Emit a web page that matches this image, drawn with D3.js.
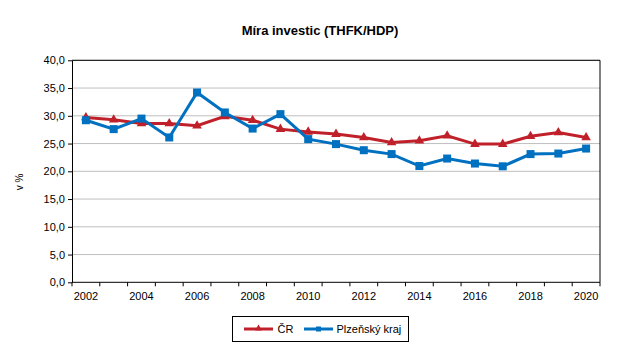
<!DOCTYPE html>
<html><head><meta charset="utf-8">
<script src="https://cdn.jsdelivr.net/npm/d3@7"></script>
<style>body{margin:0;background:#fff}svg{display:block;font-family:"Liberation Sans",Arial,sans-serif}</style>
</head><body>
<svg id="c" width="639" height="359"></svg>
<script>
const years = [2002,2003,2004,2005,2006,2007,2008,2009,2010,2011,2012,2013,2014,2015,2016,2017,2018,2019,2020];
const cr = [29.7,29.3,28.6,28.6,28.2,29.9,29.2,27.6,27.1,26.7,26.1,25.2,25.5,26.4,24.9,24.9,26.3,27.0,26.1];
const plzen = [29.2,27.6,29.5,26.1,34.2,30.6,27.7,30.3,25.8,24.9,23.8,23.1,20.95,22.3,21.4,20.9,23.1,23.2,24.1];
const yTicks = [0,5,10,15,20,25,30,35,40];
const seriesNames = ["ČR","Plzeňský kraj"];
const colors = ["#C0202A","#0070C0"];

const svg = d3.select("#c");
const L=72, R=600, T=60.3, B=282.3;
const x = d3.scaleBand().domain(years).range([L,R]);
const y = d3.scaleLinear().domain([0,40]).range([B,T]);
const fmt = v => d3.format(".1f")(v).replace(".", ",");

svg.append("text").attr("x",320).attr("y",35).attr("text-anchor","middle")
  .attr("font-weight","bold").attr("font-size",13).text("Míra investic (THFK/HDP)");

// gridlines
svg.append("g").selectAll("line").data(yTicks.filter(d=>d>0)).join("line")
  .attr("x1",L).attr("x2",R).attr("y1",d=>y(d)).attr("y2",d=>y(d))
  .attr("stroke","#BFBFBF").attr("stroke-width",1);

// plot border right/top
svg.append("line").attr("x1",L).attr("x2",R).attr("y1",T).attr("y2",T).attr("stroke","#000");
svg.append("line").attr("x1",R).attr("x2",R).attr("y1",T).attr("y2",B).attr("stroke","#000");

// y axis
const ya = svg.append("g").attr("transform",`translate(${L},0)`)
  .call(d3.axisLeft(y).tickValues(yTicks).tickFormat(fmt).tickSize(4).tickSizeOuter(0));
ya.select(".domain").attr("stroke","#000");
ya.selectAll("text").attr("font-size",11).attr("fill","#000").attr("font-family","Liberation Sans, Arial, sans-serif");

// x axis with ticks between categories
const xa = svg.append("g").attr("transform",`translate(0,${B})`);
xa.append("line").attr("x1",L).attr("x2",R).attr("stroke","#000");
const bounds = years.map(d=>x(d)).concat([R]);
xa.selectAll("line.t").data(bounds).join("line").attr("class","t")
  .attr("x1",d=>d).attr("x2",d=>d).attr("y1",0).attr("y2",4).attr("stroke","#000");
xa.selectAll("text").data(years.filter((d,i)=>i%2===0)).join("text")
  .attr("x",d=>x(d)+x.bandwidth()/2).attr("y",18).attr("text-anchor","middle")
  .attr("font-size",11).text(d=>d);

// y label
svg.append("text").attr("transform","translate(23,182) rotate(-90)")
  .attr("text-anchor","middle").attr("font-size",10).text("v %");

const cx = d => x(d)+x.bandwidth()/2;
const line = d3.line().x((d,i)=>cx(years[i])).y(d=>y(d));
const tri = d3.symbol().type(d3.symbolTriangle).size(40);

// ČR
svg.append("path").datum(cr).attr("d",line).attr("fill","none").attr("stroke",colors[0]).attr("stroke-width",3);
svg.append("g").selectAll("path").data(cr).join("path")
  .attr("transform",(d,i)=>`translate(${cx(years[i])},${y(d)})`).attr("d",tri).attr("fill",colors[0]);

// Plzeň
svg.append("path").datum(plzen).attr("d",line).attr("fill","none").attr("stroke",colors[1]).attr("stroke-width",3);
svg.append("g").selectAll("rect").data(plzen).join("rect")
  .attr("x",(d,i)=>cx(years[i])-4).attr("y",d=>y(d)-4).attr("width",8).attr("height",8).attr("fill",colors[1]);

// legend
const lg = svg.append("g");
lg.append("rect").attr("x",232.5).attr("y",316.5).attr("width",176).attr("height",25)
  .attr("fill","#fff").attr("stroke","#000");
lg.append("line").attr("x1",244).attr("x2",273).attr("y1",329).attr("y2",329).attr("stroke",colors[0]).attr("stroke-width",3);
lg.append("path").attr("transform","translate(258.5,328.5)").attr("d",d3.symbol().type(d3.symbolTriangle).size(20)).attr("fill",colors[0]);
lg.append("text").attr("x",277.5).attr("y",333).attr("font-size",11).text(seriesNames[0]);
lg.append("line").attr("x1",304).attr("x2",333).attr("y1",329).attr("y2",329).attr("stroke",colors[1]).attr("stroke-width",3);
lg.append("rect").attr("x",316).attr("y",326.5).attr("width",5).attr("height",5).attr("fill",colors[1]);
lg.append("text").attr("x",336.5).attr("y",333).attr("font-size",11).text(seriesNames[1]);
</script>
</body></html>
